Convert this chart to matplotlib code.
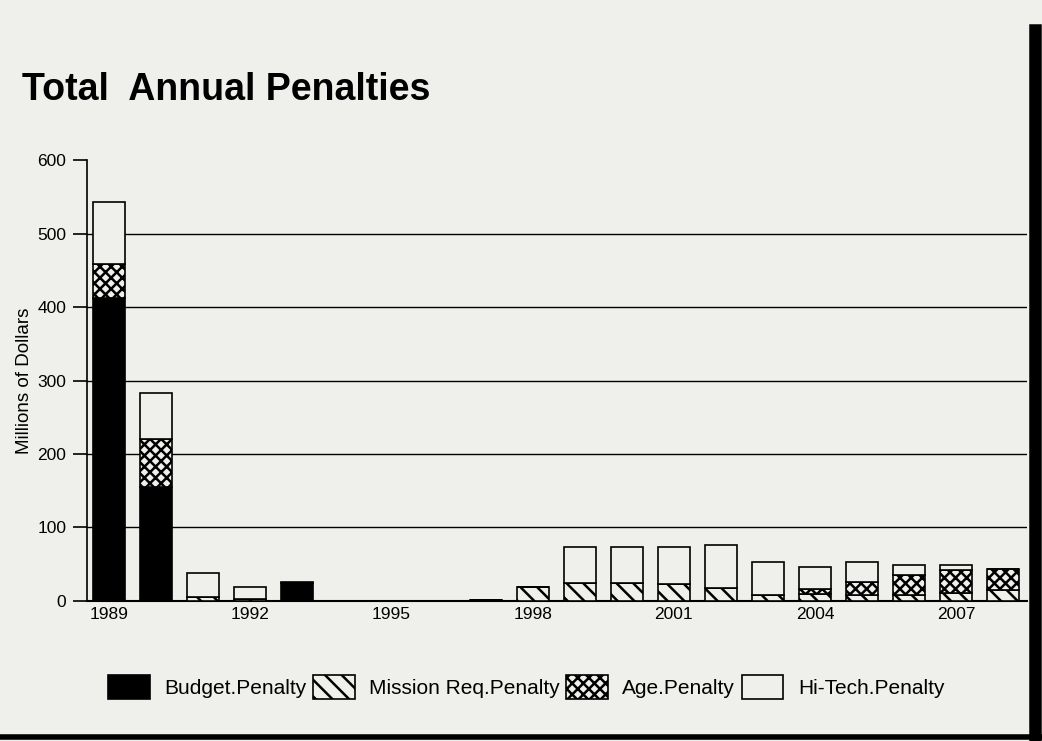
import numpy as np
import matplotlib
matplotlib.use('Agg')
import matplotlib.pyplot as plt
from matplotlib.lines import Line2D

plt.rcParams['font.family'] = ['Liberation Sans', 'DejaVu Sans']
plt.rcParams['hatch.linewidth'] = 1.8

years = list(range(1989, 2009))
budget = [412, 155, 0, 0, 24, 0, 0, 0, 0, 0, 0, 0, 0, 0, 0, 0, 0, 0, 0, 0]
mission = [0, 0, 5, 2, 0, 0, 0, 0, 1, 19, 25, 24, 23, 17, 8, 10, 8, 8, 11, 15]
age = [47, 66, 0, 0, 0, 0, 0, 0, 0, 0, 0, 0, 0, 0, 0, 6, 18, 27, 31, 28]
hitech = [84, 62, 33, 17, 2, 0, 0, 0, 0, 0, 48, 49, 50, 59, 45, 30, 27, 14, 7, 0]
tick_years = [1989, 1992, 1995, 1998, 2001, 2004, 2007]

bg = '#efefeb'
fig = plt.figure(figsize=(10.42, 7.41), dpi=100, facecolor=bg)
ax = fig.add_axes([0.0835, 0.189, 0.902, 0.595], facecolor=bg)

x = np.arange(len(years))
w = 0.68
b = np.zeros(len(years))
series = [
    (budget, 'Budget.Penalty', dict(color='black', edgecolor='black')),
    (mission, 'Mission Req.Penalty', dict(color=bg, edgecolor='black', hatch='\\\\')),
    (age, 'Age.Penalty', dict(color=bg, edgecolor='black', hatch='xxx')),
    (hitech, 'Hi-Tech.Penalty', dict(color=bg, edgecolor='black')),
]
handles = []
for vals, label, style in series:
    vals = np.array(vals, dtype=float)
    bars = ax.bar(x, vals, w, bottom=b, label=label, linewidth=1.2, zorder=3, **style)
    handles.append(bars)
    b += vals

ax.set_ylim(0, 600)
ax.set_xlim(-0.47, len(years) - 0.5)
ax.set_yticks(range(0, 601, 100))
ax.set_xticks([years.index(y) for y in tick_years])
ax.set_xticklabels([str(y) for y in tick_years])
ax.tick_params(axis='x', length=0, pad=4, labelsize=12.5)
ax.tick_params(axis='y', length=10, width=1.2, direction='out', labelsize=12.5, pad=5)
for yv in range(100, 501, 100):
    ax.axhline(yv, color='black', linewidth=1.0, zorder=1)
for s in ['top', 'right']:
    ax.spines[s].set_visible(False)
ax.spines['left'].set_linewidth(1.2)
ax.spines['bottom'].set_linewidth(1.5)
ax.set_ylabel('Millions of Dollars', fontsize=13.5, labelpad=3)

fig.text(0.021, 0.865, 'Total  Annual Penalties', fontsize=27, fontweight='bold',
         ha='left', va='baseline')

fig.legend(handles=handles, loc='center', bbox_to_anchor=(0.505, 0.073), ncol=4,
           frameon=False, fontsize=15, handlelength=2.0, handleheight=1.4,
           columnspacing=0.3, handletextpad=0.7)

# scanned-page border on the right and bottom
fig.add_artist(Line2D([0.993, 0.993], [0.0, 0.96], transform=fig.transFigure,
                      color='black', linewidth=9))
fig.add_artist(Line2D([0.0, 1.0], [0.006, 0.006], transform=fig.transFigure,
                      color='black', linewidth=4))

fig.savefig('out.png', dpi=100, facecolor=bg)
